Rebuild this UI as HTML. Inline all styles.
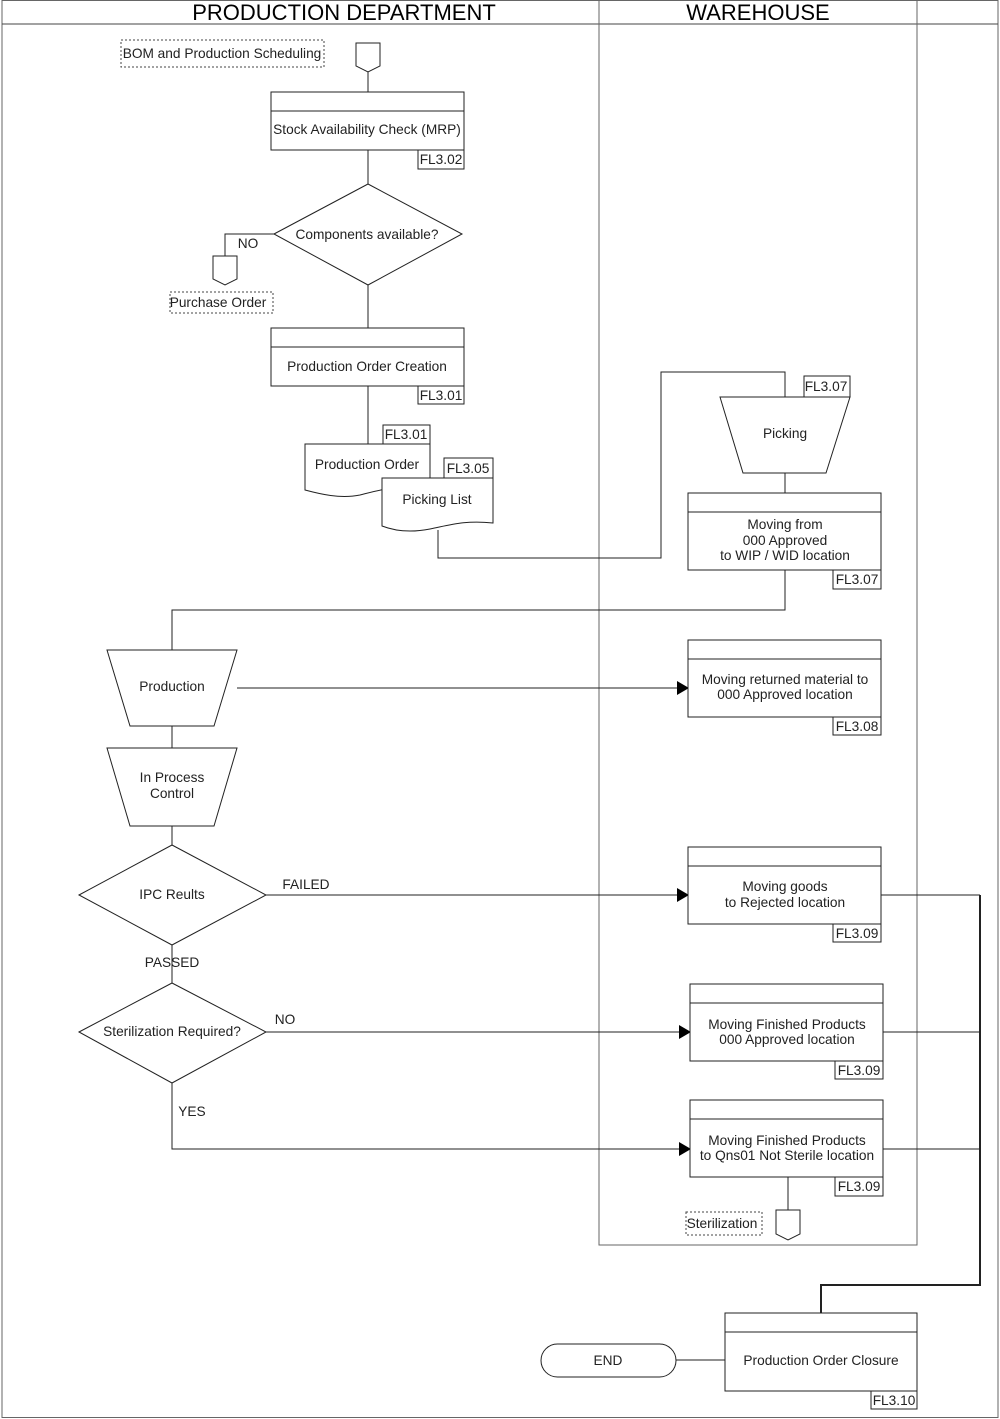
<!DOCTYPE html>
<html><head><meta charset="utf-8"><style>html,body{margin:0;padding:0;background:#fff}svg{display:block}</style></head>
<body>
<svg width="1000" height="1419" xmlns="http://www.w3.org/2000/svg" font-family="Liberation Sans, sans-serif" font-size="13.7" fill="none" stroke="#222" stroke-width="1">
<defs><marker id="a" markerWidth="12" markerHeight="14" refX="11" refY="7" orient="auto" markerUnits="userSpaceOnUse"><path d="M0,0 L12,7 L0,14z" fill="#000" stroke="none"/></marker></defs>
<rect x="2" y="0.5" width="996" height="1417" stroke="#666"/>
<line x1="2" y1="24" x2="998" y2="24" stroke="#444"/>
<path d="M599,0 V1245 H917 V0" stroke="#666"/>
<g fill="#000" stroke="none" font-size="22" text-anchor="middle">
<text x="344" y="20">PRODUCTION DEPARTMENT</text><text x="758" y="20">WAREHOUSE</text></g>

<g>
<path d="M368,72 V92 M368,150 V184 M368,285 V328 M368,386 V444"/>
<path d="M274,234 H225 V256"/>
<path d="M438,530 V558 H661 V372 H785 V397 M785,473 V493 M785,570 V610 H172 V650"/>
<path d="M172,726 V748 M172,826 V845 M172,945 V983"/>
<path d="M237,688 H688" marker-end="url(#a)"/>
<path d="M266,895 H688" marker-end="url(#a)"/>
<path d="M266,1032 H690" marker-end="url(#a)"/>
<path d="M172,1083 V1149 H690" marker-end="url(#a)"/>
<path d="M881,895 H980 M883,1032 H980 M883,1149 H980 M788,1177 V1210 M676,1360 H725"/>
<path d="M980,895 V1285 H821 V1313" stroke-width="2"/>
</g>

<g stroke-dasharray="2,2" stroke="#444"><rect x="121" y="40" width="203" height="27"/><rect x="170" y="292" width="103" height="21"/><rect x="686" y="1212" width="76" height="23"/></g>
<path d="M356,43 H380 V66 L368,72 L356,66Z M213,256 H237 V279 L225,285 L213,279Z M776,1210 H800 V1234 L788,1240 L776,1234Z" fill="#fff"/>

<g fill="#fff">
<rect x="271" y="92" width="193" height="58"/><line x1="271" y1="111" x2="464" y2="111"/><rect x="418" y="150" width="46" height="19"/>
<rect x="271" y="328" width="193" height="58"/><line x1="271" y1="347" x2="464" y2="347"/><rect x="418" y="386" width="46" height="18"/>
<rect x="688" y="493" width="193" height="77"/><line x1="688" y1="512" x2="881" y2="512"/><rect x="833" y="570" width="48" height="19"/>
<rect x="688" y="640" width="193" height="77"/><line x1="688" y1="659" x2="881" y2="659"/><rect x="833" y="717" width="48" height="18"/>
<rect x="688" y="847" width="193" height="77"/><line x1="688" y1="866" x2="881" y2="866"/><rect x="833" y="924" width="48" height="18"/>
<rect x="690" y="984" width="193" height="77"/><line x1="690" y1="1003" x2="883" y2="1003"/><rect x="835" y="1061" width="48" height="18"/>
<rect x="690" y="1100" width="193" height="77"/><line x1="690" y1="1119" x2="883" y2="1119"/><rect x="835" y="1177" width="48" height="19"/>
<rect x="725" y="1313" width="192" height="78"/><line x1="725" y1="1332" x2="917" y2="1332"/><rect x="871" y="1391" width="46" height="18"/>
<path d="M274,234 L368,184 L462,234 L368,285Z"/>
<path d="M79,895 L172,845 L266,895 L172,945Z"/>
<path d="M79,1032 L172,983 L266,1032 L172,1083Z"/>
<path d="M720,397 H850 L826,473 H743Z"/>
<path d="M107,650 H237 L214,726 H130Z"/>
<path d="M107,748 H237 L214,826 H130Z"/>
<rect x="541" y="1344" width="135" height="33" rx="16.5"/>
<path d="M305,444 H430 V487 C400,484 380,490 360,495 C340,499 320,494 305,490Z"/>
<rect x="383" y="425" width="47" height="19"/>
<path d="M382,478 H493 V523 C465,520 450,525 430,529 C410,533 395,531 382,526Z"/>
<rect x="444" y="458" width="49" height="20"/>
<rect x="804" y="376" width="46" height="21"/>
</g>

<g fill="#222" stroke="none" text-anchor="middle">
<text x="222" y="58">BOM and Production Scheduling</text>
<text x="218" y="307">Purchase Order</text>
<text x="722" y="1228">Sterilization</text>
<text x="367" y="134">Stock Availability Check (MRP)</text>
<text x="367" y="239">Components available?</text>
<text x="248" y="248">NO</text>
<text x="367" y="371">Production Order Creation</text>
<text x="367" y="469">Production Order</text>
<text x="437" y="504">Picking List</text>
<text x="785" y="438">Picking</text>
<text x="785" y="529">Moving from</text><text x="785" y="545">000 Approved</text><text x="785" y="560">to WIP / WID location</text>
<text x="172" y="691">Production</text>
<text x="785" y="684">Moving returned material to</text><text x="785" y="699">000 Approved location</text>
<text x="172" y="782">In Process</text><text x="172" y="798">Control</text>
<text x="172" y="899">IPC Reults</text>
<text x="306" y="889">FAILED</text>
<text x="785" y="891">Moving goods</text><text x="785" y="907">to Rejected location</text>
<text x="172" y="967">PASSED</text>
<text x="172" y="1036">Sterilization Required?</text>
<text x="285" y="1024">NO</text>
<text x="192" y="1116">YES</text>
<text x="787" y="1029">Moving Finished Products</text><text x="787" y="1044">000 Approved location</text>
<text x="787" y="1145">Moving Finished Products</text><text x="787" y="1160">to Qns01 Not Sterile location</text>
<text x="821" y="1365">Production Order Closure</text>
<text x="608" y="1365">END</text>
<text x="441" y="164">FL3.02</text>
<text x="441" y="400">FL3.01</text>
<text x="406" y="439">FL3.01</text>
<text x="468" y="473">FL3.05</text>
<text x="826" y="391">FL3.07</text>
<text x="857" y="584">FL3.07</text>
<text x="857" y="731">FL3.08</text>
<text x="857" y="938">FL3.09</text>
<text x="859" y="1075">FL3.09</text>
<text x="859" y="1191">FL3.09</text>
<text x="894" y="1405">FL3.10</text>
</g>
</svg>
</body></html>
